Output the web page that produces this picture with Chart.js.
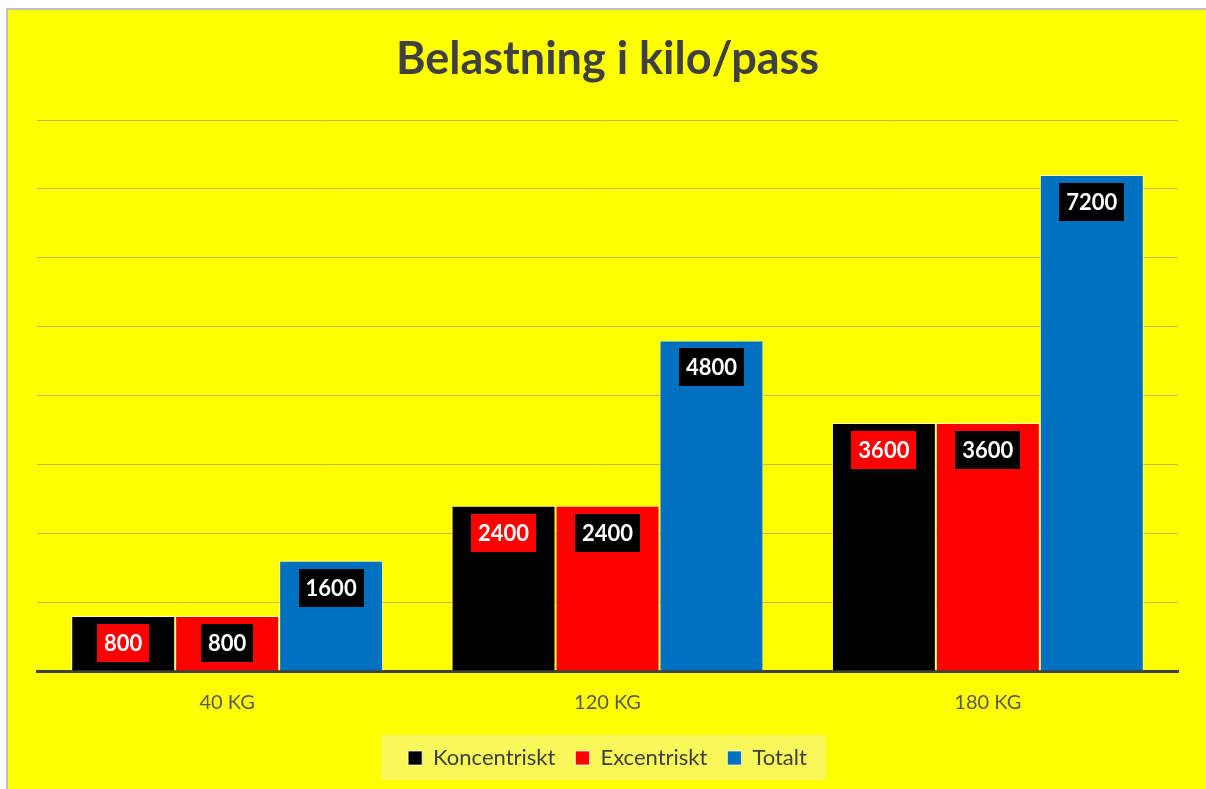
<!DOCTYPE html>
<html>
<head>
<meta charset="utf-8">
<script src="https://cdn.jsdelivr.net/npm/chart.js@4/dist/chart.umd.min.js"></script>
<style>
  html, body { margin: 0; padding: 0; background: #fff; overflow: hidden; width: 1206px; height: 789px; }
  #frame {
    position: absolute; left: 6px; top: 8px;
    width: 1230px; height: 800px;
    border-left: 2px solid #c0c0c0; border-top: 2px solid #c0c0c0;
    background: #ffff00;
  }
  canvas { display: block; }
</style>
</head>
<body>
<div id="frame"><canvas id="chart" width="1198" height="779"></canvas></div>
<script>
'use strict';

const categories = ['40 KG', '120 KG', '180 KG'];
const koncentriskt = [800, 2400, 3600];
const excentriskt = [800, 2400, 3600];
const totalt = [1600, 4800, 7200];

const SERIES_NAMES = ['Koncentriskt', 'Excentriskt', 'Totalt'];
const BAR_COLORS = ['#000000', '#ff0000', '#0070c0'];
const LABEL_BG = ['#ff0000', '#000000', '#000000'];
const FONT = 'Lato, "Open Sans", sans-serif';

// value labels in a filled box near the top of each bar
const boxLabels = {
  id: 'boxLabels',
  afterDatasetsDraw(chart) {
    const ctx = chart.ctx;
    ctx.save();
    ctx.font = 'bold 22px ' + FONT;
    ctx.textAlign = 'center';
    ctx.textBaseline = 'middle';
    chart.data.datasets.forEach((ds, i) => {
      chart.getDatasetMeta(i).data.forEach((bar, j) => {
        const text = String(ds.data[j]);
        const w = ctx.measureText(text).width + 14;
        const cy = bar.y + 27;
        ctx.fillStyle = LABEL_BG[i];
        ctx.fillRect(Math.round(bar.x - w / 2), Math.round(cy - 19), Math.round(w), 38);
        ctx.fillStyle = '#ffffff';
        ctx.fillText(text, bar.x, cy + 1);
      });
    });
    ctx.restore();
  }
};

// pale box behind the legend
const legendBg = {
  id: 'legendBg',
  beforeDraw(chart) {
    const boxes = chart.legend && chart.legend.legendHitBoxes;
    if (!boxes || !boxes.length) return;
    const left = Math.min(...boxes.map(b => b.left)) - 27;
    const right = Math.max(...boxes.map(b => b.left + b.width)) + 19;
    const cy = boxes[0].top + boxes[0].height / 2;
    const ctx = chart.ctx;
    ctx.save();
    ctx.fillStyle = '#f8f858';
    ctx.fillRect(left, cy - 23, right - left, 45);
    ctx.restore();
  }
};

new Chart(document.getElementById('chart'), {
  type: 'bar',
  data: {
    labels: categories,
    datasets: [koncentriskt, excentriskt, totalt].map((values, i) => ({
      label: SERIES_NAMES[i],
      data: values,
      backgroundColor: BAR_COLORS[i],
      borderColor: 'rgba(255,255,255,0.7)',
      borderWidth: 1,
      categoryPercentage: 0.82,
      barPercentage: 1
    }))
  },
  options: {
    responsive: false,
    devicePixelRatio: 1,
    animation: false,
    layout: { padding: { left: 29, right: 28, top: 0, bottom: 10 } },
    scales: {
      x: {
        grid: { display: false },
        border: { color: '#404040', width: 3 },
        ticks: { color: '#595959', font: { family: FONT, size: 20 }, padding: 12 }
      },
      y: {
        min: 0,
        max: 8000,
        ticks: { display: false, stepSize: 1000 },
        grid: { color: '#bcbc58', lineWidth: 1, drawTicks: false },
        border: { display: false }
      }
    },
    plugins: {
      title: {
        display: true,
        text: 'Belastning i kilo/pass',
        color: '#404040',
        font: { family: FONT, size: 45, weight: 'bold' },
        padding: { top: 22, bottom: 34 }
      },
      legend: {
        position: 'bottom',
        labels: {
          color: '#404040',
          font: { family: FONT, size: 22 },
          boxWidth: 14,
          boxHeight: 14,
          padding: 20
        }
      },
      tooltip: { enabled: false }
    }
  },
  plugins: [legendBg, boxLabels]
});
</script>
</body>
</html>
